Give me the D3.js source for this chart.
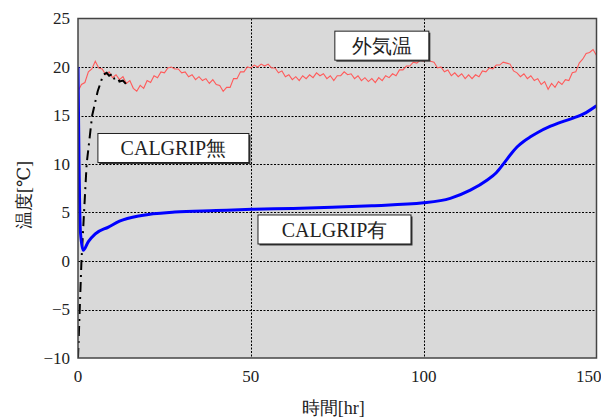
<!DOCTYPE html>
<html>
<head>
<meta charset="utf-8">
<script src="https://cdn.jsdelivr.net/npm/d3@7"></script>
<style>
  html, body { margin: 0; padding: 0; background: #fff; }
  svg { display: block; }
  .serif { font-family: "Liberation Serif", "DejaVu Serif", serif; }
</style>
</head>
<body>
<div id="chart"></div>
<script>
// axis ticks
const xTicks = [0, 50, 100, 150];
const yTicks = [-10, -5, 0, 5, 10, 15, 20, 25];

// outdoor temperature (外気温), one reading per hour, 0..150 hr
const outdoorHours = d3.range(0, 151);
const outdoorTemp = [
  17.5, 18.2, 18.4, 19.5, 19.8, 20.6, 19.9, 19.8, 19.2, 19.5,
  18.9, 19.2, 18.7, 19.0, 18.3, 18.6, 17.8, 17.5, 18.1, 17.8,
  18.6, 18.4, 19.1, 18.9, 19.5, 19.4, 19.9, 20.0, 19.8, 19.8,
  19.4, 19.5, 19.0, 19.2, 18.7, 19.0, 18.6, 18.8, 18.3, 18.7,
  18.2, 18.1, 17.5, 17.9, 17.9, 18.8, 18.8, 19.5, 19.5, 20.0,
  19.9, 20.2, 20.0, 20.3, 20.1, 20.3, 19.9, 19.9, 19.4, 19.6,
  19.0, 19.2, 18.7, 19.0, 18.6, 19.1, 18.8, 19.2, 18.9, 19.4,
  19.1, 19.3, 18.8, 19.1, 18.6, 19.1, 19.1, 19.5, 19.2, 19.3,
  18.8, 19.1, 18.6, 18.9, 18.5, 18.8, 18.4, 18.9, 18.6, 19.1,
  18.9, 19.3, 19.1, 19.7, 19.7, 20.1, 20.1, 20.5, 20.4, 20.7,
  20.6, 20.9, 20.6, 20.5, 19.9, 20.0, 19.5, 19.7, 19.1, 19.4,
  19.0, 19.3, 18.8, 19.2, 18.8, 19.2, 19.0, 19.6, 19.5, 19.9,
  19.8, 20.2, 20.2, 20.5, 20.4, 20.3, 19.6, 19.4, 19.0, 19.3,
  18.8, 19.1, 18.6, 18.8, 18.2, 18.5, 17.7, 18.3, 17.9, 18.5,
  18.2, 18.7, 18.6, 19.4, 19.5, 20.4, 20.8, 21.4, 21.5, 21.8,
  21.2
];

// CALGRIP有 (with)
const withHours = [0, 0.3, 0.7, 1.5, 3, 5, 8.8, 12, 18.4, 28, 40, 50.3, 62, 73.5, 85,
  100, 107.7, 113.5, 118.4, 121, 123.2, 125.2, 127, 129, 130.9, 133, 136.7, 140, 143.4, 147, 150];
const withTemp = [20, 10, 3, 1.1, 2.0, 2.8, 3.5, 4.1, 4.7, 5.05, 5.2, 5.33, 5.42, 5.54, 5.7,
  6.0, 6.46, 7.3, 8.35, 9.1, 10.07, 11.0, 11.75, 12.35, 12.8, 13.25, 13.9, 14.35, 14.75, 15.3, 16.0];

// CALGRIP無 (without)
const withoutHours = [0, 0.5, 1, 2.5, 4.1, 5.7, 7.3, 8.3, 9, 10, 10.5, 11.5, 12, 13, 14, 15];
const withoutTemp = [-10, -5, 0, 10, 15, 17.5, 19.2, 19.4, 19.1, 19.3, 18.8, 18.9, 18.5, 18.6, 18.2, 18.0];

// label boxes: text, centre hour, centre temp, width in px
const labelText = ["外気温", "CALGRIP無", "CALGRIP有"];
const labelHour = [87.9, 27.6, 74.2];
const labelTemp = [22.2, 11.65, 3.25];
const labelWidth = [94, 151, 153];

const width = 601, height = 419;
const margin = { top: 18.5, right: 4.5, bottom: 61, left: 78 };

const svg = d3.select("#chart").append("svg")
  .attr("width", width)
  .attr("height", height);

const x = d3.scaleLinear().domain([0, 150]).range([margin.left, width - margin.right]);
const y = d3.scaleLinear().domain([-10, 25]).range([height - margin.bottom, margin.top]);

// plot background
svg.append("rect")
  .attr("x", x(0)).attr("y", y(25))
  .attr("width", x(150) - x(0)).attr("height", y(-10) - y(25))
  .attr("fill", "#d9d9d9");

svg.append("clipPath").attr("id", "plotclip")
  .append("rect")
  .attr("x", x(0)).attr("y", y(25))
  .attr("width", x(150) - x(0)).attr("height", y(-10) - y(25));

// grid lines
svg.append("g")
  .selectAll("line")
  .data(yTicks.filter(d => d > -10 && d < 25))
  .join("line")
  .attr("x1", x(0)).attr("x2", x(150))
  .attr("y1", d => Math.round(y(d)) + 0.5).attr("y2", d => Math.round(y(d)) + 0.5)
  .attr("stroke", "#000").attr("stroke-width", 1)
  .attr("stroke-dasharray", "2,1.5");

svg.append("g")
  .selectAll("line")
  .data(xTicks.filter(d => d > 0 && d < 150))
  .join("line")
  .attr("x1", d => Math.round(x(d)) + 0.5).attr("x2", d => Math.round(x(d)) + 0.5)
  .attr("y1", y(25)).attr("y2", y(-10))
  .attr("stroke", "#000").attr("stroke-width", 1)
  .attr("stroke-dasharray", "2,1.5");

const plot = svg.append("g").attr("clip-path", "url(#plotclip)");

const line = d3.line()
  .x(d => x(d[0]))
  .y(d => y(d[1]));

// outdoor
plot.append("path")
  .datum(outdoorHours.map((h, i) => [h, outdoorTemp[i]]))
  .attr("d", line)
  .attr("fill", "none")
  .attr("stroke", "#ff5a5a")
  .attr("stroke-width", 1.1);

// without
plot.append("path")
  .datum(withoutHours.map((h, i) => [h, withoutTemp[i]]))
  .attr("d", line)
  .attr("fill", "none")
  .attr("stroke", "#000")
  .attr("stroke-width", 2)
  .attr("stroke-dasharray", "10,5,2,5");

// with
plot.append("path")
  .datum(withHours.map((h, i) => [h, withTemp[i]]))
  .attr("d", d3.line().x(d => x(d[0])).y(d => y(d[1])).curve(d3.curveMonotoneX))
  .attr("fill", "none")
  .attr("stroke", "#0000ff")
  .attr("stroke-width", 3);

// frame
svg.append("rect")
  .attr("x", x(0)).attr("y", y(25))
  .attr("width", x(150) - x(0)).attr("height", y(-10) - y(25))
  .attr("fill", "none")
  .attr("stroke", "#444")
  .attr("stroke-width", 1.5);

// tick labels
svg.append("g")
  .selectAll("text")
  .data(yTicks)
  .join("text")
  .attr("class", "serif")
  .attr("x", x(0) - 8)
  .attr("y", d => y(d))
  .attr("dy", "0.35em")
  .attr("text-anchor", "end")
  .attr("font-size", 17)
  .attr("fill", "#222")
  .text(d => d < 0 ? "\u2212" + Math.abs(d) : d);

svg.append("g")
  .selectAll("text")
  .data(xTicks)
  .join("text")
  .attr("class", "serif")
  .attr("x", d => x(d))
  .attr("y", y(-10) + 24)
  .attr("text-anchor", d => d === 150 ? "end" : "middle")
  .attr("dx", d => d === 150 ? 5 : 0)
  .attr("font-size", 17)
  .attr("fill", "#222")
  .text(d => d);

// axis titles
svg.append("text")
  .attr("class", "serif")
  .attr("x", (x(0) + x(150)) / 2 - 4)
  .attr("y", 414)
  .attr("text-anchor", "middle")
  .attr("font-size", 18)
  .attr("fill", "#222")
  .text("時間[hr]");

svg.append("text")
  .attr("class", "serif")
  .attr("transform", `translate(30, ${y(6.8)}) rotate(-90)`)
  .attr("text-anchor", "middle")
  .attr("font-size", 18)
  .attr("fill", "#222")
  .text("温度[℃]");

// label boxes
const boxH = 29;
labelText.forEach((t, i) => {
  const cx = x(labelHour[i]), cy = y(labelTemp[i]);
  const g = svg.append("g");
  g.append("rect")
    .attr("x", cx - labelWidth[i] / 2 + 1.5).attr("y", cy - boxH / 2 + 1.5)
    .attr("width", labelWidth[i]).attr("height", boxH)
    .attr("fill", "#333");
  g.append("rect")
    .attr("x", cx - labelWidth[i] / 2).attr("y", cy - boxH / 2)
    .attr("width", labelWidth[i]).attr("height", boxH)
    .attr("fill", "#fff")
    .attr("stroke", "#222").attr("stroke-width", 1);
  g.append("text")
    .attr("class", "serif")
    .attr("x", cx).attr("y", cy)
    .attr("dy", "0.36em")
    .attr("text-anchor", "middle")
    .attr("font-size", 20)
    .attr("fill", "#222")
    .text(t);
});
</script>
</body>
</html>
